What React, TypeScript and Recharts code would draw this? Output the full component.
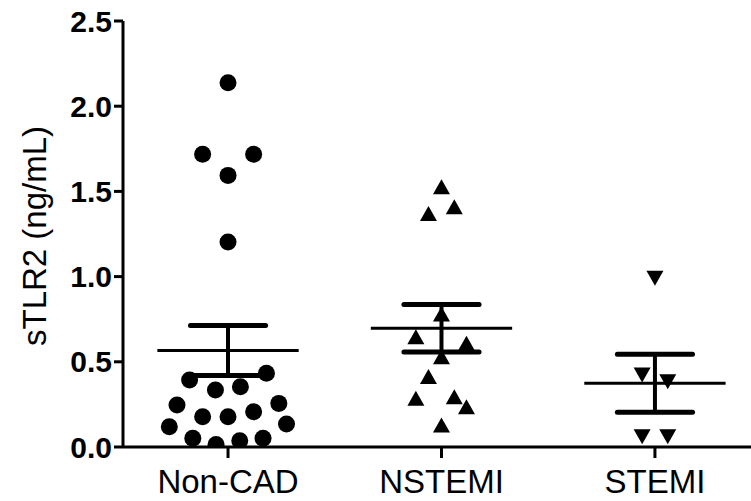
import React from 'react';
import { ScatterChart, Scatter, XAxis, YAxis, ReferenceLine } from 'recharts';

const groups = ['Non-CAD', 'NSTEMI', 'STEMI'];
const yTicks = [0, 0.5, 1.0, 1.5, 2.0, 2.5];

// values, with the column jitter used to spread them out
const nonCadValues = [2.138, 1.718, 1.718, 1.594, 1.203, 0.393, 0.433, 0.335, 0.354, 0.246, 0.256, 0.178, 0.178, 0.207, 0.119, 0.135, 0.051, 0.014, 0.037, 0.051];
const nonCadJitter = [0, -0.119, 0.12, 0, 0, -0.18, 0.18, -0.059, 0.058, -0.239, 0.238, -0.119, 0, 0.12, -0.275, 0.274, -0.165, -0.056, 0.055, 0.164];

const nstemiValues = [1.528, 1.371, 1.41, 0.78, 0.647, 0.609, 0.53, 0.413, 0.286, 0.295, 0.236, 0.129];
const nstemiJitter = [0, -0.061, 0.06, 0, -0.12, 0.117, 0, -0.061, -0.12, 0.06, 0.117, 0];

const stemiValues = [0.99, 0.423, 0.383, 0.06, 0.06];
const stemiJitter = [0, -0.06, 0.06, -0.06, 0.06];

const groupMeans = [0.566, 0.697, 0.374];
const groupSems = [0.147, 0.14, 0.17];

const toPoints = (values: number[], jitter: number[], pos: number) =>
  values.map((y, i) => ({ x: pos + jitter[i], y }));

const nonCad = toPoints(nonCadValues, nonCadJitter, 1);
const nstemi = toPoints(nstemiValues, nstemiJitter, 2);
const stemi = toPoints(stemiValues, stemiJitter, 3);

const MEAN_HALF = 0.331;
const CAP_HALF = 0.176;
const FONT = '"Liberation Sans", Arial, Helvetica, sans-serif';

const Dot = (props: any) => <circle cx={props.cx} cy={props.cy} r={8.5} fill="#000" />;

const TriUp = (props: any) => {
  const { cx, cy } = props;
  return <polygon points={`${cx - 8.5},${cy + 7.5} ${cx + 8.5},${cy + 7.5} ${cx},${cy - 7.5}`} fill="#000" />;
};

const TriDown = (props: any) => {
  const { cx, cy } = props;
  return <polygon points={`${cx - 8.5},${cy - 7.5} ${cx + 8.5},${cy - 7.5} ${cx},${cy + 7.5}`} fill="#000" />;
};

const YLabel = (props: any) => {
  const vb = props.viewBox || { x: 0, y: 0, height: 0 };
  const cy = vb.y + vb.height / 2 + 2;
  return (
    <text
      x={46}
      y={cy}
      transform={`rotate(-90 46 ${cy})`}
      textAnchor="middle"
      fontSize={33}
      fontFamily={FONT}
      fill="#000"
    >
      sTLR2 (ng/mL)
    </text>
  );
};

const App: React.FC = () => {
  const lines: React.ReactNode[] = [];
  groupMeans.forEach((m, i) => {
    const pos = i + 1;
    const s = groupSems[i];
    lines.push(
      <ReferenceLine key={`m${i}`} segment={[{ x: pos - MEAN_HALF, y: m }, { x: pos + MEAN_HALF, y: m }]} stroke="#000" strokeWidth={3} />,
      <ReferenceLine key={`v${i}`} segment={[{ x: pos, y: m - s }, { x: pos, y: m + s }]} stroke="#000" strokeWidth={4} />,
      <ReferenceLine key={`t${i}`} segment={[{ x: pos - CAP_HALF, y: m + s }, { x: pos + CAP_HALF, y: m + s }]} stroke="#000" strokeWidth={5} strokeLinecap="round" />,
      <ReferenceLine key={`b${i}`} segment={[{ x: pos - CAP_HALF, y: m - s }, { x: pos + CAP_HALF, y: m - s }]} stroke="#000" strokeWidth={5} strokeLinecap="round" />
    );
  });

  return (
    <div style={{ position: 'absolute', left: 0, top: 0, background: '#fff' }}>
      <ScatterChart width={751} height={501} margin={{ top: 21, right: 0, bottom: 0, left: 0 }}>
        <XAxis
          type="number"
          dataKey="x"
          domain={[0.508, 3.45]}
          ticks={[1, 2, 3]}
          tickFormatter={(v) => groups[Math.round(v) - 1]}
          height={54}
          tickSize={11}
          tickMargin={12}
          axisLine={{ stroke: '#000', strokeWidth: 3 }}
          tickLine={{ stroke: '#000', strokeWidth: 3 }}
          tick={{ fill: '#000', fontSize: 33, fontFamily: FONT }}
          allowDataOverflow
        />
        <YAxis
          type="number"
          dataKey="y"
          domain={[0, 2.5]}
          ticks={yTicks}
          tickFormatter={(v) => v.toFixed(1)}
          width={123}
          tickSize={9}
          tickMargin={2}
          axisLine={{ stroke: '#000', strokeWidth: 3 }}
          tickLine={{ stroke: '#000', strokeWidth: 3 }}
          tick={{ fill: '#000', fontSize: 30, fontWeight: 'bold', fontFamily: FONT }}
          label={<YLabel />}
          allowDataOverflow
        />
        <Scatter data={nonCad} shape={Dot} isAnimationActive={false} />
        <Scatter data={nstemi} shape={TriUp} isAnimationActive={false} />
        <Scatter data={stemi} shape={TriDown} isAnimationActive={false} />
        {lines}
      </ScatterChart>
    </div>
  );
};

export default App;
